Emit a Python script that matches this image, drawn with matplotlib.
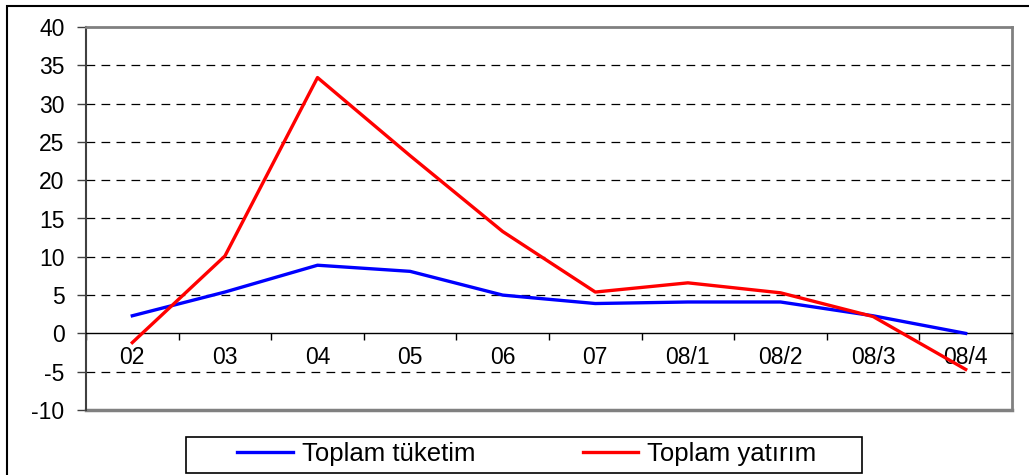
import matplotlib.pyplot as plt
from matplotlib.patches import Rectangle

plt.rcParams['font.family'] = ['Liberation Sans', 'DejaVu Sans']
plt.rcParams['axes.unicode_minus'] = False

periods = ['02', '03', '04', '05', '06', '07', '08/1', '08/2', '08/3', '08/4']
tuketim = [2.3, 5.4, 8.9, 8.1, 5.0, 3.9, 4.1, 4.1, 2.3, 0.0]
yatirim = [-1.2, 10.1, 33.4, 23.2, 13.3, 5.4, 6.6, 5.3, 2.2, -4.7]
y_ticks = list(range(-10, 45, 5))

W, H = 1029, 475
fig = plt.figure(figsize=(W / 100, H / 100), dpi=100)
ax = fig.add_axes([86 / W, 1 - 410 / H, (1012 - 86) / W, (410 - 27) / H])

x = list(range(len(periods)))
ax.plot(x, tuketim, color='#0000ff', lw=2.4, label='Toplam tüketim', zorder=3)
ax.plot(x, yatirim, color='#ff0000', lw=2.4, label='Toplam yatırım', zorder=3)

ax.set_xlim(-0.5, len(periods) - 0.5)
ax.set_ylim(-10, 40)
ax.set_yticks(y_ticks)
ax.set_xticks(x)
ax.set_xticklabels(periods)
ax.set_xticks([i - 0.5 for i in range(len(periods) + 1)], minor=True)

for v in y_ticks:
    if v not in (-10, 0, 40):
        ax.axhline(v, color='black', lw=0.9, dashes=(7, 5), zorder=1)

ax.spines['bottom'].set_position(('data', 0))
ax.spines['bottom'].set_color('black')
ax.spines['bottom'].set_linewidth(1.0)
ax.spines['left'].set_color('#404040')
ax.spines['left'].set_linewidth(1.5)
for s in ('top', 'right'):
    ax.spines[s].set_color('#808080')
    ax.spines[s].set_linewidth(2)
ax.axhline(-10, color='#808080', lw=2.5, clip_on=False, zorder=2)

ax.tick_params(axis='y', length=6.5, width=1, pad=9, labelsize=16.5, color='#404040')
ax.tick_params(axis='x', which='major', length=0, pad=9, labelsize=16.5)
ax.tick_params(axis='x', which='minor', length=5, width=1, direction='out')

# legend with box
fig.patches.append(Rectangle((186 / W, 1 - 473 / H), (862 - 186) / W, (473 - 437) / H,
                             transform=fig.transFigure, fill=False, ec='black', lw=1.2))
fig.legend(loc='center', bbox_to_anchor=(527 / W, 1 - 454 / H), ncol=2, frameon=False,
           fontsize=18.5, handlelength=2.15, handletextpad=0.35, columnspacing=4.2)

# outer frame
fig.patches.append(Rectangle((7 / W, -0.1), 1.2, 1 - 6 / H + 0.1,
                             transform=fig.transFigure, fill=False, ec='black', lw=1.5))

fig.savefig('out.png', dpi=100)
